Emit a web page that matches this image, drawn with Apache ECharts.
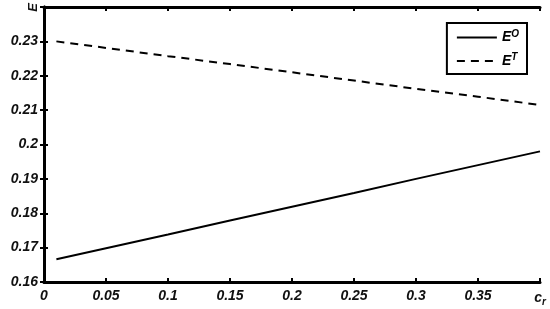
<!DOCTYPE html>
<html>
<head>
<meta charset="utf-8">
<script src="https://cdn.jsdelivr.net/npm/echarts@6/dist/echarts.min.js"></script>
<style>html,body{margin:0;padding:0;background:#fff}#c{width:550px;height:309px}</style>
</head>
<body>
<div id="c"></div>
<script>
var xValues = [0.01, 0.05, 0.1, 0.15, 0.2, 0.25, 0.3, 0.35, 0.4];
var eO = [0.1666, 0.1698, 0.1738, 0.1779, 0.1819, 0.1859, 0.1900, 0.1940, 0.1980];
var eT = [0.2300, 0.2281, 0.2257, 0.2234, 0.2210, 0.2186, 0.2162, 0.2139, 0.2115];
var seriesNames = ['EO', 'ET'];

var chart = echarts.init(document.getElementById('c'));
var font = 'Liberation Sans, Arial, sans-serif';
function pairs(ys){ return xValues.map(function(x,i){return [x, ys[i]];}); }
var labelStyle = {color:'#111', fontFamily:font, fontSize:14, fontWeight:'bold', fontStyle:'italic'};
chart.setOption({
  animation:false,
  grid:{left:44, right:10, top:7, bottom:27},
  legend:{
    right:23, top:23, orient:'vertical', itemWidth:40, itemHeight:10, itemGap:8,
    padding:[6,8,6,9], borderColor:'#000', borderWidth:2,
    itemStyle:{opacity:0},
    data:seriesNames,
    formatter:function(n){ return '{b|E}{s|' + n.charAt(1) + '}'; },
    textStyle:{rich:{
      b:{fontFamily:font, fontSize:14, fontWeight:'bold', fontStyle:'italic', color:'#000'},
      s:{fontFamily:font, fontSize:10, fontWeight:'bold', fontStyle:'italic', color:'#000', verticalAlign:'top', padding:[0,0,7,0]}
    }}
  },
  xAxis:[{
    type:'value', min:0, max:0.4, interval:0.05,
    axisLine:{lineStyle:{color:'#000', width:3}},
    axisTick:{inside:true, length:4, lineStyle:{color:'#000', width:2}},
    splitLine:{show:false},
    axisLabel:Object.assign({margin:7, formatter:function(v){
      if (Math.abs(v-0.4)<1e-9) return '{c|c}{r|r}';
      return String(+v.toFixed(2));
    }, rich:{
      c:{fontFamily:font, fontSize:14, fontWeight:'bold', fontStyle:'italic', color:'#111'},
      r:{fontFamily:font, fontSize:10, fontWeight:'bold', fontStyle:'italic', color:'#111', verticalAlign:'bottom', padding:[8,0,0,0]}
    }}, labelStyle)
  },{
    type:'value', min:0, max:0.4, interval:0.05, position:'top',
    axisLine:{lineStyle:{color:'#000', width:3}},
    axisTick:{inside:true, length:4, lineStyle:{color:'#000', width:2}},
    axisLabel:{show:false}, splitLine:{show:false}
  }],
  yAxis:[{
    type:'value', min:0.16, max:0.24, interval:0.01,
    axisLine:{lineStyle:{color:'#000', width:3}},
    axisTick:{inside:true, length:4, lineStyle:{color:'#000', width:2}},
    splitLine:{show:false},
    axisLabel:Object.assign({margin:6, formatter:function(v){
      if (Math.abs(v-0.24)<1e-9) return '';
      return String(+v.toFixed(2));
    }}, labelStyle)
  },{
    type:'value', min:0.16, max:0.24, interval:0.01, position:'right',
    axisLine:{lineStyle:{color:'#000', width:3}},
    axisTick:{inside:true, length:4, lineStyle:{color:'#000', width:2}},
    axisLabel:{show:false}, splitLine:{show:false}
  }],
  graphic:[{
    type:'text', left:27, top:3, rotation:Math.PI/2,
    style:{text:'E', fill:'#111', font:'italic bold 13px Liberation Sans, Arial, sans-serif'}
  }],
  series:[{
    name:seriesNames[0], type:'line', data:pairs(eO), symbol:'none',
    lineStyle:{color:'#000', width:2, type:'solid'}, itemStyle:{color:'#000'}
  },{
    name:seriesNames[1], type:'line', data:pairs(eT), symbol:'none',
    lineStyle:{color:'#000', width:2, type:[8,6]}, itemStyle:{color:'#000'}
  }]
});
</script>
</body>
</html>
